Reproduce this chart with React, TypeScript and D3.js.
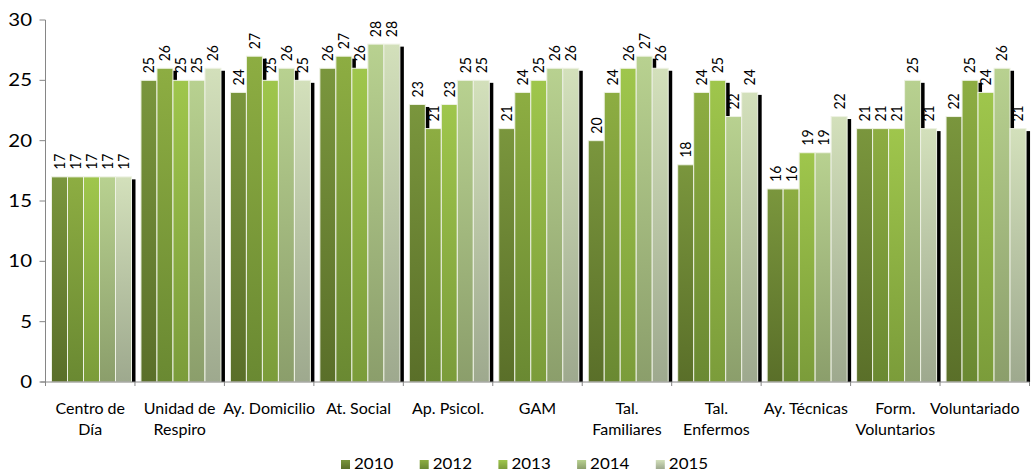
import React from "react";
import * as d3 from "d3";

const categories = [
  "Centro de Día",
  "Unidad de Respiro",
  "Ay. Domicilio",
  "At. Social",
  "Ap. Psicol.",
  "GAM",
  "Tal. Familiares",
  "Tal. Enfermos",
  "Ay. Técnicas",
  "Form. Voluntarios",
  "Voluntariado",
];
const categoryLines = [
  ["Centro de", "Día"],
  ["Unidad de", "Respiro"],
  ["Ay. Domicilio"],
  ["At. Social"],
  ["Ap. Psicol."],
  ["GAM"],
  ["Tal.", "Familiares"],
  ["Tal.", "Enfermos"],
  ["Ay. Técnicas"],
  ["Form.", "Voluntarios"],
  ["Voluntariado"],
];
const years = ["2010", "2012", "2013", "2014", "2015"];
const v2010 = [17, 25, 24, 26, 23, 21, 20, 18, 16, 21, 22];
const v2012 = [17, 26, 27, 27, 21, 24, 24, 24, 16, 21, 25];
const v2013 = [17, 25, 25, 26, 23, 25, 26, 25, 19, 21, 24];
const v2014 = [17, 25, 26, 28, 25, 26, 27, 22, 19, 25, 26];
const v2015 = [17, 26, 25, 28, 25, 26, 26, 24, 22, 21, 21];
const seriesValues = [v2010, v2012, v2013, v2014, v2015];
const yTicks = [0, 5, 10, 15, 20, 25, 30];

const gradTop = ["#7a963d", "#8dad42", "#9fc64c", "#b8d190", "#d3e0bb"];
const gradBottom = ["#5a6f29", "#6a8932", "#7b9c3a", "#8b9e6b", "#9ea98e"];

const FONT = "Lato, 'Open Sans', sans-serif";

export default function App() {
  const W = 1032;
  const H = 472;
  const x0 = 45.5;
  const x1 = 1029.5;
  const y = d3.scaleLinear().domain([0, 30]).range([382, 20]);
  const xBand = d3.scaleBand<string>().domain(categories).range([x0, x1]).padding(0);
  const xInner = d3.scaleBand<string>().domain(years).range([6, 86]).padding(0);
  const bw = xInner.bandwidth();
  const yBase = y(0);

  const bars: any[] = [];
  categories.forEach((c, ci) => {
    years.forEach((yr, si) => {
      const v = seriesValues[si][ci];
      const bx = (xBand(c) as number) + (xInner(yr) as number);
      bars.push({ c, ci, si, v, bx, by: y(v) });
    });
  });

  return (
    <svg
      width={W}
      height={H}
      style={{ position: "absolute", left: 0, top: 0, background: "#fff" }}
      fontFamily={FONT}
    >
      <defs>
        {years.map((yr, i) => (
          <linearGradient key={yr} id={`g${i}`} x1="0" y1="0" x2="0" y2="1">
            <stop offset="0%" stopColor={gradTop[i]} />
            <stop offset="100%" stopColor={gradBottom[i]} />
          </linearGradient>
        ))}
        <clipPath id="plotclip">
          <rect x={0} y={0} width={W} height={yBase} />
        </clipPath>
      </defs>

      {/* shadows */}
      <g clipPath="url(#plotclip)">
        {bars.map((b, i) => (
          <rect
            key={`s${i}`}
            x={b.bx + 4}
            y={b.by + 2.5}
            width={bw}
            height={yBase - b.by}
            fill="#000"
          />
        ))}
      </g>

      {/* bars */}
      {bars.map((b, i) => (
        <rect
          key={`b${i}`}
          x={b.bx}
          y={b.by}
          width={bw}
          height={yBase - b.by}
          fill={`url(#g${b.si})`}
          stroke="#eef2e4"
          strokeWidth={1}
        />
      ))}

      {/* value labels */}
      {bars.map((b, i) => (
        <g
          key={`l${i}`}
          transform={`translate(${b.bx + bw / 2 + 5.4},${b.by - 7}) scale(1.1,1)`}
        >
          <text transform="rotate(-90)" fontSize={14} fill="#000">
            {b.v}
          </text>
        </g>
      ))}

      {/* axes */}
      <line x1={x0} x2={x0} y1={y(30)} y2={yBase + 4} stroke="#868686" strokeWidth={1} />
      <line x1={x0 - 5} x2={x1} y1={yBase} y2={yBase} stroke="#868686" strokeWidth={1} />
      {yTicks.map((t) => (
        <g key={`yt${t}`}>
          <line x1={x0 - 6} x2={x0} y1={y(t)} y2={y(t)} stroke="#868686" />
          <g transform={`translate(32,${y(t) + 6}) scale(1.2,1)`}>
            <text textAnchor="end" fontSize={17} fill="#000">
              {t}
            </text>
          </g>
        </g>
      ))}
      {categories.map((c, ci) => (
        <line
          key={`xt${ci}`}
          x1={(xBand(c) as number) + xBand.bandwidth()}
          x2={(xBand(c) as number) + xBand.bandwidth()}
          y1={yBase}
          y2={yBase + 4}
          stroke="#868686"
        />
      ))}

      {/* category labels */}
      {categories.map((c, ci) => {
        let cx = (xBand(c) as number) + xBand.bandwidth() / 2;
        if (ci === categories.length - 1) cx -= 10;
        return (
          <text key={`xl${ci}`} textAnchor="middle" fontSize={16} fill="#000">
            {categoryLines[ci].map((ln, li) => (
              <tspan key={li} x={cx} y={414 + li * 21}>
                {ln}
              </tspan>
            ))}
          </text>
        );
      })}

      {/* legend */}
      {years.map((yr, i) => {
        const lx = 341 + i * 78.7;
        return (
          <g key={`lg${yr}`}>
            <rect x={lx} y={460} width={9} height={9} fill={`url(#g${i})`} />
            <g transform={`translate(${lx + 13},468.5) scale(1.06,1)`}>
              <text fontSize={16} fill="#000">
                {yr}
              </text>
            </g>
          </g>
        );
      })}
    </svg>
  );
}
